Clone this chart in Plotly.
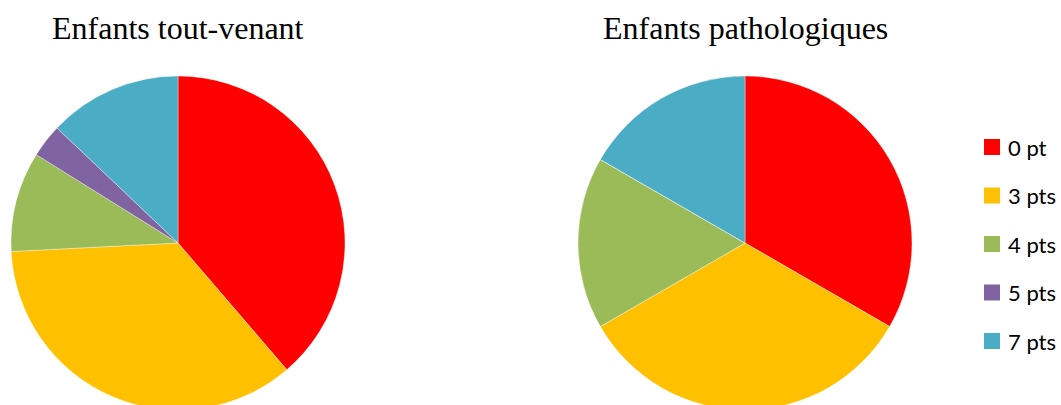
import plotly.graph_objects as go

labels = ["0 pt", "3 pts", "4 pts", "5 pts", "7 pts"]
colors = ["#FF0000", "#FFC000", "#9BBB59", "#8064A2", "#4BACC6"]
tout_venant = [12, 11, 3, 1, 4]
pathologiques = [2, 2, 1, 0, 1]
titles = ["Enfants tout-venant", "Enfants pathologiques"]

W, H = 1061, 420

def px_x(p):
    return p / W

def px_y(p):
    return 1 - p / H

fig = go.Figure()
centers = [178, 745]
radius = 167
cy = 243
for vals, cx, name in zip([tout_venant, pathologiques], centers, titles):
    fig.add_trace(go.Pie(
        labels=labels, values=vals, name=name,
        sort=False, direction="clockwise", rotation=0,
        marker=dict(colors=colors, line=dict(color="rgba(255,255,255,0.6)", width=0.6)),
        textinfo="none", hoverinfo="label+value+percent",
        showlegend=False,
        domain=dict(x=[px_x(cx - radius), px_x(cx + radius)],
                    y=[px_y(cy + radius), px_y(cy - radius)]),
    ))

annotations = []
for t, cx in zip(titles, centers):
    annotations.append(dict(text=t, x=px_x(cx), y=px_y(28), xref="paper", yref="paper",
                            xanchor="center", yanchor="middle", showarrow=False,
                            font=dict(family="Liberation Serif", size=32, color="#000000")))

shapes = []
leg_y0 = 147
leg_dy = 48.5
for i, (lab, col) in enumerate(zip(labels, colors)):
    yc = leg_y0 + i * leg_dy
    shapes.append(dict(type="rect", xref="paper", yref="paper",
                       x0=px_x(984), x1=px_x(1000), y0=px_y(yc + 8), y1=px_y(yc - 8),
                       fillcolor=col, line=dict(width=0)))
    annotations.append(dict(text=lab, x=px_x(1006), y=px_y(yc), xref="paper", yref="paper",
                            xanchor="left", yanchor="middle", showarrow=False,
                            font=dict(family="Lato", size=22, color="#000000")))

fig.update_layout(
    width=W, height=H,
    margin=dict(l=0, r=0, t=0, b=0),
    paper_bgcolor="white", plot_bgcolor="white",
    annotations=annotations, shapes=shapes,
    showlegend=False,
)

fig.write_html(
    "out.html",
    config={"displayModeBar": False},
    post_script="document.body.style.margin='0';document.body.style.overflow='hidden';"
                "document.documentElement.style.overflow='hidden';",
)
